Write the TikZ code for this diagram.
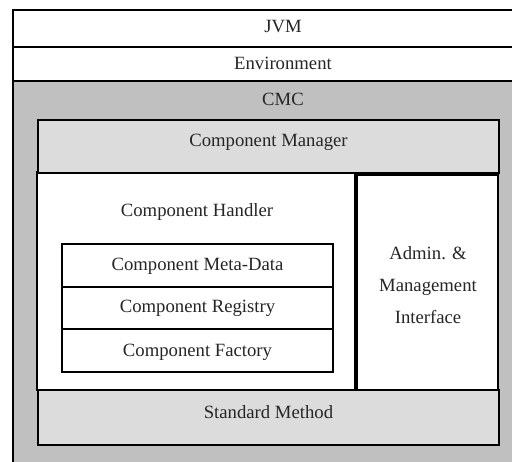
\documentclass[tikz,border=0pt]{standalone}
\usepackage{fontspec}
\setmainfont{Liberation Serif}
\begin{document}
\begin{tikzpicture}[x=1pt,y=-1pt,
  box/.style={draw=black, line width=1.6pt, rectangle, inner sep=0pt, outer sep=0pt, anchor=north west},
  lbl/.style={font=\fontsize{18.7}{32}\selectfont, inner sep=0pt, align=center, text=black!85}]
\useasboundingbox (0,0) rectangle (512,462);
\clip (0,0) rectangle (512,462);
\fill[white] (0,0) rectangle (512,462);
\definecolor{cmcgray}{HTML}{C0C0C0}
\definecolor{lightgray}{HTML}{DCDCDC}
% outer layers
\node[box, fill=white, minimum width=560pt, minimum height=37pt] (jvm) at (13,10) {};
\node[box, fill=white, minimum width=560pt, minimum height=34pt] (env) at (13,47) {};
\node[box, fill=cmcgray, line width=2pt, minimum width=560pt, minimum height=420pt] (cmc) at (13,81) {};
\node[lbl] (jvmt) at (283,27) {JVM};
\node[lbl] (envt) at (283,63) {Environment};
\node[lbl] (cmct) at (283,99) {CMC};
% handler and admin
\node[box, fill=white, minimum width=318pt, minimum height=218pt] (handler) at (37,172) {};
\node[box, fill=white, minimum width=141pt, minimum height=215pt] (admin) at (357,175) {};
\node[box, fill=lightgray, minimum width=461pt, minimum height=53pt] (manager) at (38,120) {};
\node[box, fill=lightgray, minimum width=461pt, minimum height=55pt] (standard) at (38,390) {};
\node[lbl] (managert) at (268.5,142) {Component Manager};
\node[lbl] (standardt) at (268.5,412) {Standard Method};
\node[lbl] (handlert) at (197,212) {Component Handler};
\node[lbl] (admint) at (428,285) {Admin. \&\\Management\\Interface};
% inner boxes
\node[box, fill=white, minimum width=271pt, minimum height=43pt] (meta) at (62,244) {};
\node[box, fill=white, minimum width=271pt, minimum height=42pt] (registry) at (62,287) {};
\node[box, fill=white, minimum width=271pt, minimum height=43pt] (factory) at (62,329) {};
\node[lbl] (metat) at (197.5,266) {Component Meta-Data};
\node[lbl] (registryt) at (197.5,308) {Component Registry};
\node[lbl] (factoryt) at (197.5,352) {Component Factory};
\end{tikzpicture}
\end{document}
